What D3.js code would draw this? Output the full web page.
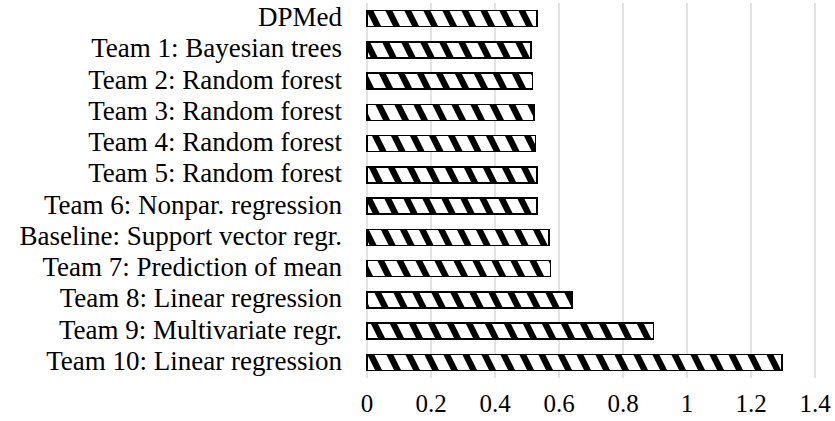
<!DOCTYPE html>
<html>
<head>
<meta charset="utf-8">
<script src="https://cdn.jsdelivr.net/npm/d3@7"></script>
</head>
<body style="margin:0">
<svg id="chart" width="835" height="421"></svg>
<script>
// Methods, top to bottom
const methods = [
  "DPMed",
  "Team 1: Bayesian trees",
  "Team 2: Random forest",
  "Team 3: Random forest",
  "Team 4: Random forest",
  "Team 5: Random forest",
  "Team 6: Nonpar. regression",
  "Baseline: Support vector regr.",
  "Team 7: Prediction of mean",
  "Team 8: Linear regression",
  "Team 9: Multivariate regr.",
  "Team 10: Linear regression"
];
// Values
const scores = [0.532, 0.513, 0.517, 0.522, 0.527, 0.531, 0.532, 0.569, 0.574, 0.640, 0.896, 1.297];
const xTicks = [0, 0.2, 0.4, 0.6, 0.8, 1, 1.2, 1.4];

const margin = {top: 3, right: 20, bottom: 43, left: 367};
const width = 835, height = 421;
const serifFont = '"Liberation Serif", "Times New Roman", Tinos, FreeSerif, serif';

const svg = d3.select("#chart");

// wide downward diagonal hatch: stripe where (x - y*pw/ph) mod pw is in [0, sw]
const pw = 19, ph = 38, sw = 7;
const yCut = ph * (pw - sw) / pw;
const defs = svg.append("defs");
const pat = defs.append("pattern")
  .attr("id", "hatch")
  .attr("patternUnits", "userSpaceOnUse")
  .attr("width", pw)
  .attr("height", ph);
pat.append("rect").attr("width", pw).attr("height", ph).attr("fill", "#fff");
pat.append("path")
  .attr("d",
    `M0,0 L${sw},0 L${pw},${yCut} L${pw},${ph} Z ` +
    `M0,${yCut} L${sw},${ph} L0,${ph} Z`)
  .attr("fill", "#000");

const x = d3.scaleLinear()
  .domain([0, 1.4])
  .range([margin.left, margin.left + 448]);

const y = d3.scaleBand()
  .domain(methods)
  .range([margin.top, height - margin.bottom])
  .paddingInner(0.49)
  .paddingOuter(0.245);

// vertical gridlines
svg.append("g")
  .selectAll("line")
  .data(xTicks)
  .join("line")
  .attr("x1", d => x(d)).attr("x2", d => x(d))
  .attr("y1", margin.top).attr("y2", height - margin.bottom)
  .attr("stroke", "#d9d9d9")
  .attr("stroke-width", 1.5);

// tick labels
svg.selectAll("text.tick")
  .data(xTicks)
  .join("text")
  .attr("class", "tick")
  .attr("x", d => x(d))
  .attr("y", 412)
  .attr("text-anchor", "middle")
  .style("font-family", serifFont, "important")
  .style("font-size", "25px", "important")
  .text(d => d);

// category labels
svg.selectAll("text.cat")
  .data(methods)
  .join("text")
  .attr("class", "cat")
  .attr("x", 342)
  .attr("y", d => y(d) + y.bandwidth() / 2 + 7.5)
  .attr("text-anchor", "end")
  .style("font-family", serifFont, "important")
  .style("font-size", "27px", "important")
  .text(d => d);

// bars
svg.append("g")
  .selectAll("rect")
  .data(scores)
  .join("rect")
  .attr("x", x(0))
  .attr("y", (d, i) => y(methods[i]))
  .attr("width", d => x(d) - x(0))
  .attr("height", y.bandwidth())
  .attr("fill", "url(#hatch)")
  .attr("stroke", "#000")
  .attr("stroke-width", 1.5)
  .attr("shape-rendering", "crispEdges");
</script>
</body>
</html>
